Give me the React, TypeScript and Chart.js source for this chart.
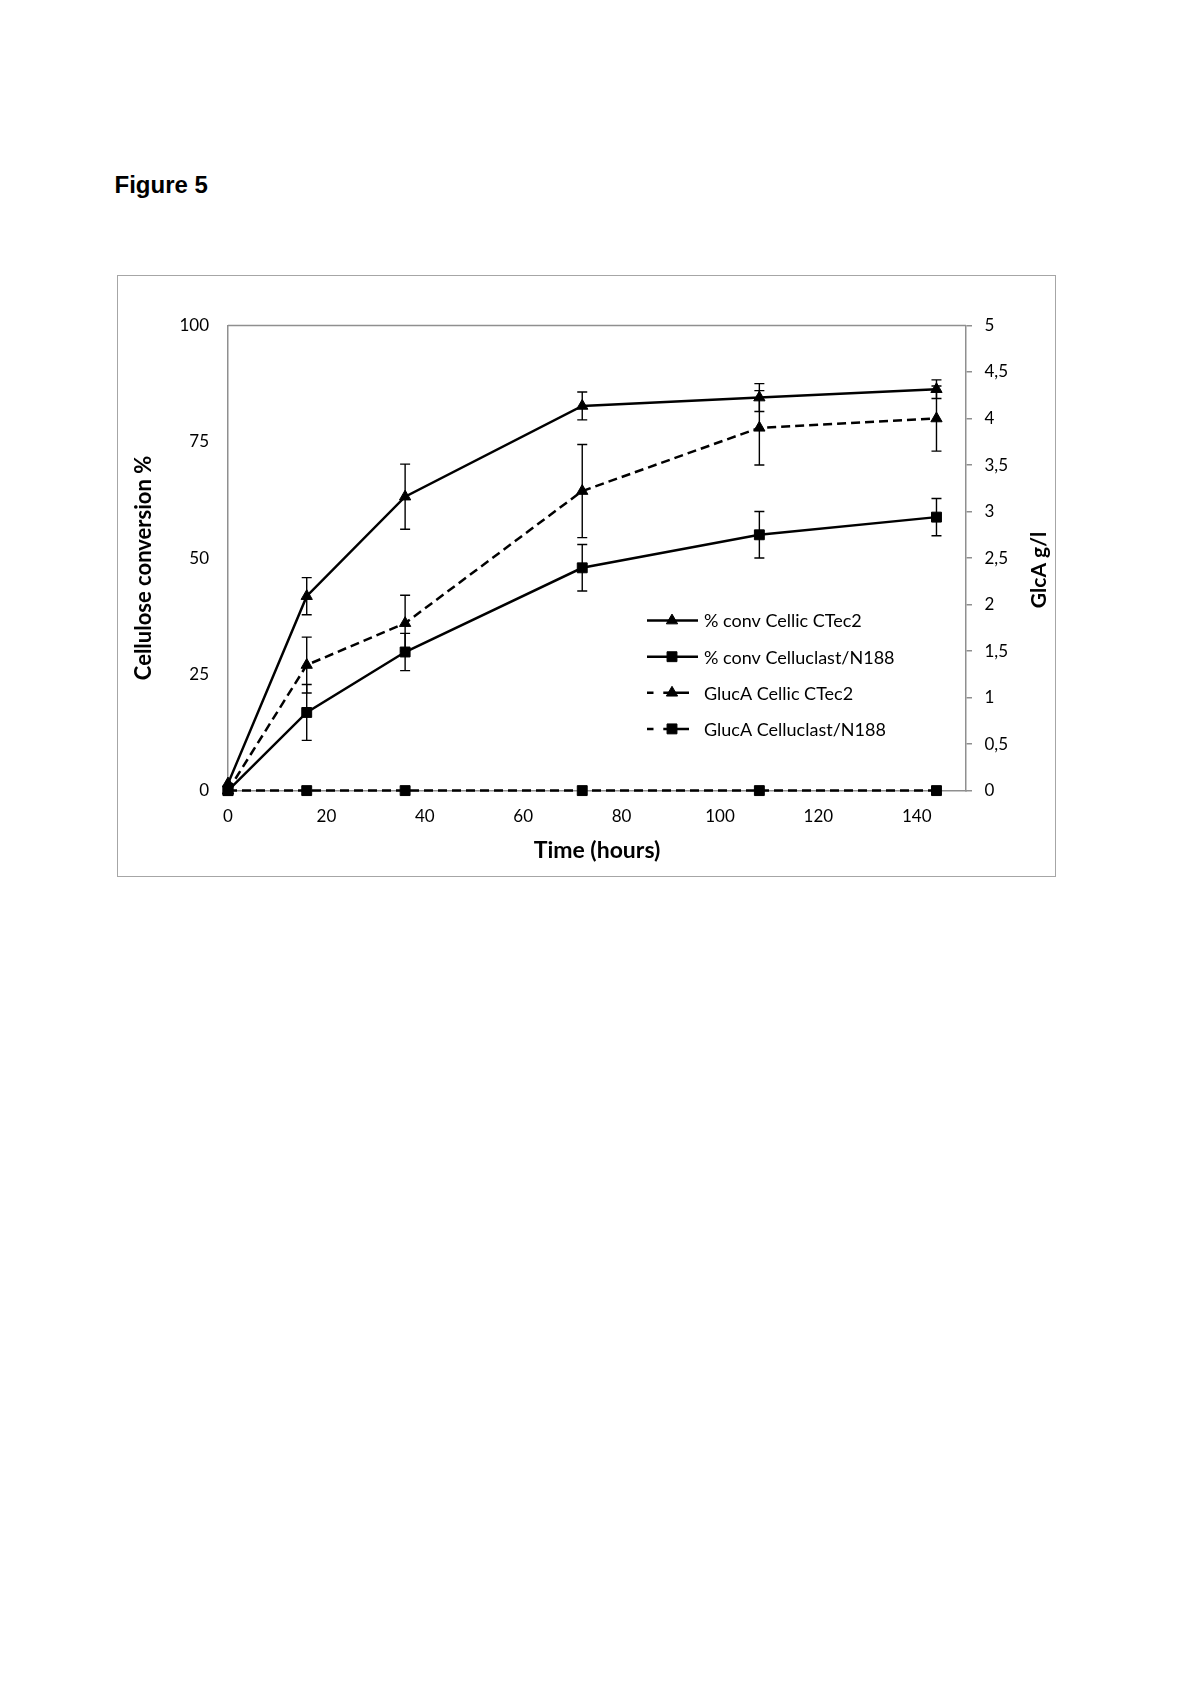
import React, { useEffect, useRef } from 'react';
import { Chart, registerables } from 'chart.js';

Chart.register(...registerables);

// ---- data ----
const hours = [0, 16, 36, 72, 108, 144];

const convCellic = [1.5, 41.8, 63.2, 82.7, 84.5, 86.3];
const convCellicErr = [0, 4, 7, 3, 3, 2];

const convCelluclast = [0, 16.8, 29.8, 47.9, 55, 58.8];
const convCelluclastErr = [0, 6, 4, 5, 5, 4];

const glcaCellic = [0, 1.35, 1.8, 3.22, 3.9, 4.0];
const glcaCellicErr = [0, 0.3, 0.3, 0.5, 0.4, 0.35];

const glcaCelluclast = [0, 0, 0, 0, 0, 0];
const glcaCelluclastErr = [0, 0, 0, 0, 0, 0];

const seriesLabels = [
  '% conv Cellic CTec2',
  '% conv Celluclast/N188',
  'GlucA Cellic CTec2',
  'GlucA Celluclast/N188',
];

const xTitle = 'Time (hours)';
const leftTitle = 'Cellulose conversion %';
const rightTitle = 'GlcA g/l';
const figureTitle = 'Figure 5';

const FONT = 'Lato, "Noto Sans", sans-serif';
const AXIS_GRAY = '#8f8f8f';
const DASH = [9, 5];
const LEGEND_DASH = [6.5, 9.8, 25.7, 100];

const toPoints = (vals: number[]) => hours.map((h, i) => ({ x: h, y: vals[i] }));

const errorBarPlugin = {
  id: 'errorBars',
  afterDatasetsDraw(chart: any) {
    const ctx = chart.ctx;
    chart.data.datasets.forEach((ds: any, i: number) => {
      const errs: number[] | undefined = ds.errors;
      if (!errs) return;
      const meta = chart.getDatasetMeta(i);
      const yScale = chart.scales[ds.yAxisID];
      ctx.save();
      ctx.strokeStyle = '#000';
      ctx.lineWidth = 1.4;
      ctx.setLineDash([]);
      meta.data.forEach((pt: any, j: number) => {
        const e = errs[j];
        if (!e) return;
        const v = ds.data[j].y;
        const yt = yScale.getPixelForValue(v + e);
        const yb = yScale.getPixelForValue(v - e);
        const x = pt.x;
        const cap = 5;
        ctx.beginPath();
        ctx.moveTo(x, yt);
        ctx.lineTo(x, yb);
        ctx.moveTo(x - cap, yt);
        ctx.lineTo(x + cap, yt);
        ctx.moveTo(x - cap, yb);
        ctx.lineTo(x + cap, yb);
        ctx.stroke();
      });
      ctx.restore();
    });
  },
};

function drawMarker(ctx: CanvasRenderingContext2D, style: string, x: number, y: number, r: number) {
  ctx.beginPath();
  if (style === 'triangle') {
    let rad = 0;
    ctx.moveTo(x + Math.sin(rad) * r, y - Math.cos(rad) * r);
    rad += (2 * Math.PI) / 3;
    ctx.lineTo(x + Math.sin(rad) * r, y - Math.cos(rad) * r);
    rad += (2 * Math.PI) / 3;
    ctx.lineTo(x + Math.sin(rad) * r, y - Math.cos(rad) * r);
    ctx.closePath();
  } else {
    const s = Math.SQRT1_2 * r;
    ctx.rect(x - s, y - s, 2 * s, 2 * s);
  }
  ctx.fill();
  ctx.stroke();
}

const decorPlugin = {
  id: 'decor',
  beforeDatasetsDraw(chart: any) {
    const { ctx, chartArea } = chart;
    ctx.save();
    ctx.strokeStyle = AXIS_GRAY;
    ctx.lineWidth = 1.5;
    ctx.beginPath();
    ctx.moveTo(chartArea.left, chartArea.top);
    ctx.lineTo(chartArea.right, chartArea.top);
    ctx.stroke();
    ctx.restore();
  },
  afterDraw(chart: any) {
    const { ctx, chartArea } = chart;
    ctx.save();
    // axis titles
    ctx.fillStyle = '#000';
    ctx.textAlign = 'center';
    ctx.textBaseline = 'alphabetic';
    ctx.font = `bold 23px ${FONT}`;
    ctx.fillText(xTitle, (chartArea.left + chartArea.right) / 2, 583);

    ctx.save();
    ctx.font = `bold 22px ${FONT}`;
    ctx.translate(34, 293);
    ctx.rotate(-Math.PI / 2);
    ctx.fillText(leftTitle, 0, 0);
    ctx.restore();

    ctx.save();
    ctx.font = `bold 21px ${FONT}`;
    ctx.translate(928.5, 295);
    ctx.rotate(-Math.PI / 2);
    ctx.fillText(rightTitle, 0, 0);
    ctx.restore();

    // legend
    const lx0 = 530;
    const lx1 = 581;
    const mx = 555;
    const tx = 587;
    const y0 = 345.6;
    const dy = 36.1;
    chart.data.datasets.forEach((ds: any, i: number) => {
      const y = y0 + i * dy;
      ctx.strokeStyle = '#000';
      ctx.lineWidth = ds.borderWidth;
      ctx.setLineDash(ds.borderDash ? LEGEND_DASH : []);
      ctx.beginPath();
      ctx.moveTo(lx0, y);
      ctx.lineTo(lx1, y);
      ctx.stroke();
      ctx.setLineDash([]);
      ctx.fillStyle = '#000';
      ctx.lineWidth = 1;
      drawMarker(ctx, ds.pointStyle, mx, y, ds.pointRadius);
      ctx.font = `18px ${FONT}`;
      ctx.textAlign = 'left';
      ctx.textBaseline = 'middle';
      ctx.fillText(ds.label, tx, y + 1);
    });
    ctx.restore();
  },
};

export default function App() {
  const ref = useRef<HTMLCanvasElement | null>(null);

  useEffect(() => {
    const canvas = ref.current;
    if (!canvas) return;

    const common = {
      borderColor: '#000',
      backgroundColor: '#000',
      pointBackgroundColor: '#000',
      pointBorderColor: '#000',
      pointBorderWidth: 1,
      borderWidth: 2.5,
      tension: 0,
      clip: false as any,
    };

    const tickFont = { family: FONT, size: 17 };

    const chart = new Chart(canvas, {
      type: 'line',
      data: {
        datasets: [
          {
            ...common,
            label: seriesLabels[0],
            data: toPoints(convCellic),
            yAxisID: 'y',
            pointStyle: 'triangle',
            pointRadius: 6.5,
            errors: convCellicErr,
          } as any,
          {
            ...common,
            label: seriesLabels[1],
            data: toPoints(convCelluclast),
            yAxisID: 'y',
            pointStyle: 'rect',
            pointRadius: 7,
            errors: convCelluclastErr,
          } as any,
          {
            ...common,
            label: seriesLabels[2],
            data: toPoints(glcaCellic),
            yAxisID: 'y2',
            pointStyle: 'triangle',
            pointRadius: 6.5,
            borderDash: DASH,
            errors: glcaCellicErr,
          } as any,
          {
            ...common,
            label: seriesLabels[3],
            data: toPoints(glcaCelluclast),
            yAxisID: 'y2',
            pointStyle: 'rect',
            pointRadius: 7,
            borderDash: DASH,
            errors: glcaCelluclastErr,
          } as any,
        ],
      },
      options: {
        responsive: false,
        animation: false,
        devicePixelRatio: 1,
        layout: { padding: { top: 50.5, left: 0, right: 0, bottom: 0 } },
        plugins: {
          legend: { display: false },
          tooltip: { enabled: false },
        },
        scales: {
          x: {
            type: 'linear',
            position: 'bottom',
            min: 0,
            max: 150,
            grid: { display: false, drawTicks: false },
            border: { display: true, color: AXIS_GRAY, width: 1.5 },
            ticks: {
              stepSize: 20,
              includeBounds: false,
              padding: 15.5,
              color: '#000',
              font: tickFont,
              maxRotation: 0,
              autoSkip: false,
            },
            afterFit: (s: any) => {
              s.height = 85.4;
            },
          },
          y: {
            type: 'linear',
            position: 'left',
            min: 0,
            max: 100,
            grid: { display: false, drawTicks: false },
            border: { display: true, color: AXIS_GRAY, width: 1.5 },
            ticks: {
              stepSize: 25,
              padding: 19,
              color: '#000',
              font: tickFont,
            },
            afterFit: (s: any) => {
              s.width = 111;
            },
          },
          y2: {
            type: 'linear',
            position: 'right',
            min: 0,
            max: 5,
            grid: {
              display: true,
              drawOnChartArea: false,
              drawTicks: true,
              tickLength: 6,
              tickColor: AXIS_GRAY,
              lineWidth: 1.5,
            },
            border: { display: true, color: AXIS_GRAY, width: 1.5 },
            ticks: {
              stepSize: 0.5,
              padding: 12.5,
              color: '#000',
              font: tickFont,
              callback: (v: any) => String(Math.round(Number(v) * 10) / 10).replace('.', ','),
            },
            afterFit: (s: any) => {
              s.width = 89;
            },
          },
        },
      } as any,
      plugins: [errorBarPlugin, decorPlugin],
    });

    return () => chart.destroy();
  }, []);

  return (
    <div>
      <div
        style={{
          position: 'absolute',
          left: 114.5,
          top: 173,
          font: 'bold 24px "Liberation Sans", Arial, sans-serif',
          lineHeight: 1,
          color: '#000',
          whiteSpace: 'nowrap',
        }}
      >
        {figureTitle}
      </div>
      <div
        style={{
          position: 'absolute',
          left: 116.5,
          top: 275,
          width: 939,
          height: 602,
          boxSizing: 'border-box',
          border: '1.5px solid #a6a6a6',
        }}
      />
      <canvas
        ref={ref}
        width={938}
        height={601}
        style={{ position: 'absolute', left: 117, top: 275, width: 938, height: 601 }}
      />
    </div>
  );
}
